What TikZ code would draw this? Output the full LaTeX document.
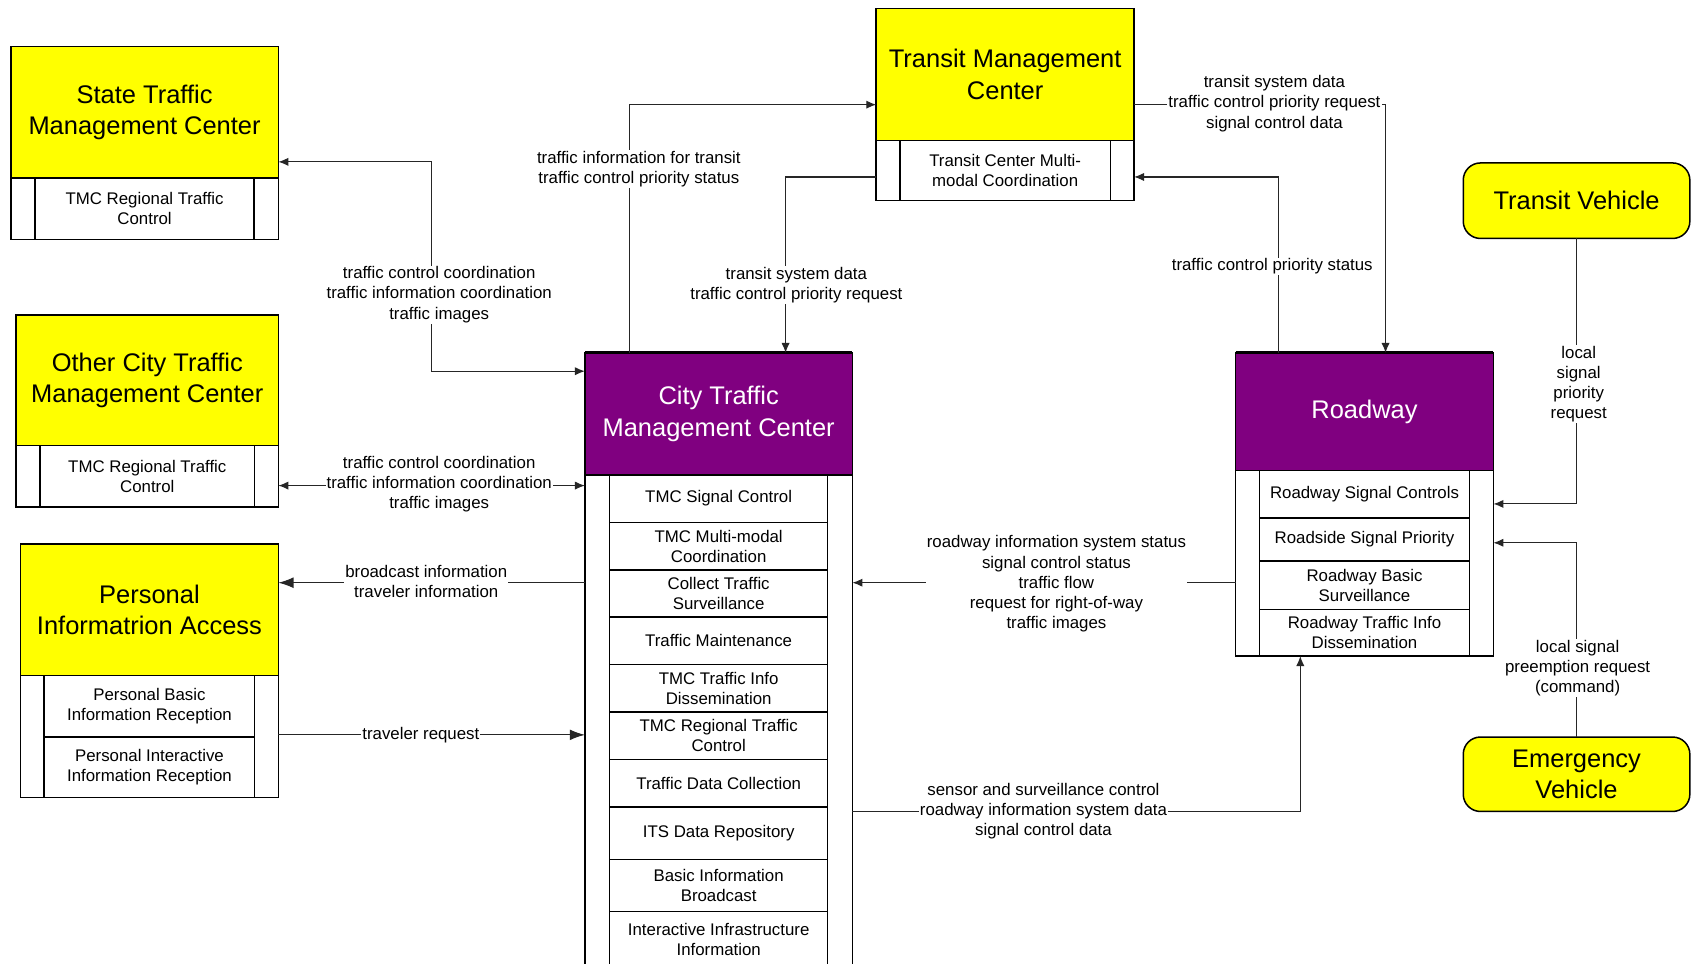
\documentclass[tikz,border=0pt]{standalone}
\usepackage{fontspec}
\setmainfont{Liberation Sans}
\usetikzlibrary{positioning,chains,arrows.meta}
\definecolor{tmcyellow}{RGB}{255,255,0}
\definecolor{tmcpurple}{RGB}{128,0,128}
\newcommand{\ttlfont}{\fontsize{11.8}{14.5}\selectfont}
\newcommand{\lblfont}{\fontsize{7.8}{9.3}\selectfont}

\begin{document}
\begin{tikzpicture}[x=0.5pt, y=-0.5pt,
box/.style={draw, line width=0.7pt, inner sep=0pt, outer sep=0pt, align=center},
hdr/.style={box, fill=tmcyellow, font=\ttlfont},
hdrp/.style={box, fill=tmcpurple, text=white, font=\ttlfont},
subrow/.style={box, fill=white, font=\lblfont},
veh/.style={hdr, rounded corners=8pt},
frame/.style={line width=0.7pt},
flow/.style={line width=0.5pt, draw=black!85, -{Latex[length=4.6pt,width=3.8pt]}},
both/.style={flow, {Latex[length=4.6pt,width=3.8pt]}-{Latex[length=4.6pt,width=3.8pt]}},
bigflow/.style={flow, -{Latex[length=7pt,width=5pt]}},
lbl/.style={fill=white, inner sep=0.5pt, align=center, font=\lblfont}]

\clip (0,0) rectangle (1568,893);
\fill[white] (0,0) rectangle (1568,893);

% state tmc
\node[hdr, minimum width=124pt, minimum height=61pt] (stmc) at (134,104) {State Traffic\\Management Center};
\node[subrow, minimum width=101.5pt, minimum height=28.5pt, below=0pt of stmc] (stmc-1) {TMC Regional Traffic\\Control};
\draw[frame] (stmc.south west) rectangle (stmc-1.south -| stmc.east);

% other city tmc
\node[hdr, minimum width=121.5pt, minimum height=60.5pt] (oth) at (136.5,352.5) {Other City Traffic\\Management Center};
\node[subrow, minimum width=99.5pt, minimum height=28.5pt, below=0pt of oth] (oth-1) {TMC Regional Traffic\\Control};
\draw[frame] (oth.south west) rectangle (oth-1.south -| oth.east);

% personal information access
\node[hdr, minimum width=119.5pt, minimum height=61pt] (pia) at (138.5,565) {Personal\\Informatrion Access};
\node[subrow, minimum width=97.5pt, minimum height=28.5pt, below=0pt of pia] (pia-1) {Personal Basic\\Information Reception};
\node[subrow, minimum width=97.5pt, minimum height=28pt, below=0pt of pia-1] (pia-2) {Personal Interactive\\Information Reception};
\draw[frame] (pia.south west) rectangle (pia-2.south -| pia.east);

% transit management center
\node[hdr, minimum width=119.5pt, minimum height=61pt] (tmc) at (931.5,69) {Transit Management\\Center};
\node[subrow, minimum width=97.5pt, minimum height=28pt, below=0pt of tmc] (tmc-1) {Transit Center Multi-\\modal Coordination};
\draw[frame] (tmc.south west) rectangle (tmc-1.south -| tmc.east);

% city tmc
\begin{scope}[start chain=going below, node distance=0pt]
\node[on chain, hdrp, minimum width=124pt, minimum height=56.5pt] (ctmc) at (666,383.5) {City Traffic\\Management Center};
\foreach \txt/\h [count=\i] in {TMC Signal Control/22, TMC Multi-modal\\Coordination/22,
  Collect Traffic\\Surveillance/22, Traffic Maintenance/22, TMC Traffic Info\\Dissemination/22,
  TMC Regional Traffic\\Control/22, Traffic Data Collection/22, ITS Data Repository/24.2,
  Basic Information\\Broadcast/24.2, Interactive Infrastructure\\Information/26}
  \node[on chain, subrow, minimum width=101pt, minimum height=\h pt] (ctmc-\i) {\txt};
\end{scope}
\draw[frame] (ctmc.south west) rectangle (ctmc-10.south -| ctmc.east);
\draw[line width=1.4pt] (ctmc.north west) -- (ctmc.north east);

% roadway
\begin{scope}[start chain=going below, node distance=0pt]
\node[on chain, hdrp, minimum width=119.5pt, minimum height=54.5pt] (road) at (1264.5,381.5) {Roadway};
\foreach \txt/\h [count=\i] in {Roadway Signal Controls/22, Roadside Signal Priority/20,
  Roadway Basic\\Surveillance/22.5, Roadway Traffic Info\\Dissemination/21.5}
  \node[on chain, subrow, minimum width=97.5pt, minimum height=\h pt] (road-\i) {\txt};
\end{scope}
\draw[frame] (road.south west) rectangle (road-4.south -| road.east);
\draw[line width=1.4pt] (road.north west) -- (road.north east);

% vehicles
\node[veh, minimum width=105pt, minimum height=35pt] (tv) at (1461,186) {Transit Vehicle};
\node[veh, minimum width=105pt, minimum height=34.5pt] (ev) at (1461,717.5) {Emergency\\Vehicle};

% flows
\draw[both] ([yshift=-23pt]stmc.east) -- ++(71pt,0) |- ([yshift=19.75pt]ctmc.west);
\draw[both] ([yshift=-48.75pt]oth.east) -- ([yshift=-33.25pt]ctmc.west);
\draw[bigflow] ([yshift=-78.25pt]ctmc.west) -- ([yshift=12.5pt]pia.east);
\draw[bigflow] ([yshift=-58pt]pia.east) -- ([yshift=-148.75pt]ctmc.west);
\draw[flow] ([xshift=-41.5pt]ctmc.north) |- ([yshift=-14pt]tmc.west);
\draw[flow] ([yshift=-47.5pt]tmc.west) -| ([xshift=31pt]ctmc.north);
\draw[flow] ([yshift=-14pt]tmc.east) -| ([xshift=9.75pt]road.north);
\draw[flow] ([xshift=-39.75pt]road.north) |- ([yshift=-47.5pt]tmc.east);
\draw[flow] ([yshift=-79.25pt]road.west) -- ([yshift=-78.25pt]ctmc.east);
\draw[flow] ([yshift=-184.25pt]ctmc.east) -| ([xshift=-29.75pt]road-4.south);
\draw[flow] (tv.south) |- ([yshift=-42.75pt]road.east);
\draw[flow] (ev.north) |- ([yshift=-60.75pt]road.east);

% labels
\node[lbl] (l1) at (407,273) {traffic control coordination\\traffic information coordination\\traffic images};
\node[lbl] (l2) at (407,449) {traffic control coordination\\traffic information coordination\\traffic images};
\node[lbl] (l3) at (395,539) {broadcast information\\traveler information};
\node[lbl] (l4) at (390,681) {traveler request};
\node[lbl] (l5) at (592,157) {traffic information for transit\\traffic control priority status};
\node[lbl] (l6) at (738,264) {transit system data\\traffic control priority request};
\node[lbl] (l7) at (1181,96) {transit system data\\traffic control priority request\\signal control data};
\node[lbl] (l8) at (1179,247) {traffic control priority status};
\node[lbl] (l9) at (979,541) {roadway information system status\\signal control status\\traffic flow\\request for right-of-way\\traffic images};
\node[lbl] (l10) at (967,752) {sensor and surveillance control\\roadway information system data\\signal control data};
\node[lbl] (l11) at (1463,356) {local\\signal\\priority\\request};
\node[lbl] (l12) at (1462,619) {local signal\\preemption request\\(command)};
\end{tikzpicture}
\end{document}
